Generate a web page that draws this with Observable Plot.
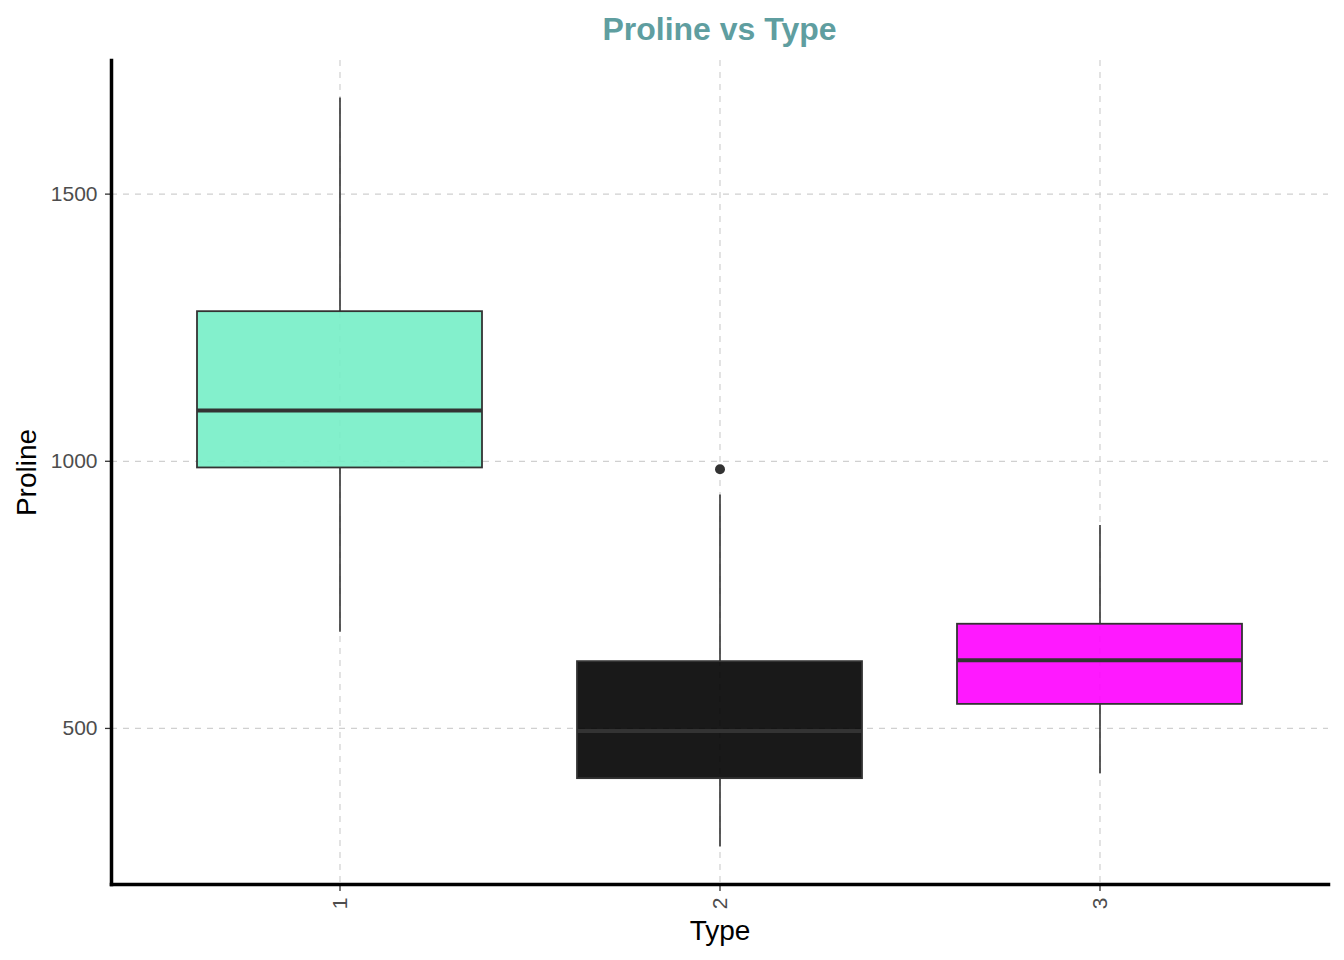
<!DOCTYPE html>
<html>
<head>
<meta charset="utf-8">
<script src="https://cdn.jsdelivr.net/npm/d3@7"></script>
<script src="https://cdn.jsdelivr.net/npm/@observablehq/plot@0.6"></script>
<style>
  body { margin: 0; background: #fff; font-family: "Liberation Sans", Arial, sans-serif; }
  #title { height: 50px; margin-left: 111px; width: 1217px; text-align: center;
           font-size: 32px; font-weight: bold; color: #5F9EA0; line-height: 58px; }
</style>
</head>
<body>
<div id="title">Proline vs Type</div>
<div id="chart"></div>
<script>
const types = ["1", "2", "3"];
const lowerWhisker = [680, 278, 415];
const q1 = [987.5, 406, 545];
const median = [1095, 495, 627.5];
const q3 = [1280, 625, 695];
const upperWhisker = [1680, 937, 880];
const outlierTypes = ["2"];
const outlierValues = [985];
const boxColors = ["#76EEC6", "#000000", "#FF00FF"];
const yTicks = [500, 1000, 1500];

const boxes = types.map((t, i) => ({
  type: t, lo: lowerWhisker[i], q1: q1[i], med: median[i], q3: q3[i], hi: upperWhisker[i], color: boxColors[i]
}));
const outliers = outlierTypes.map((t, i) => ({type: t, value: outlierValues[i]}));

const allVals = [...lowerWhisker, ...upperWhisker, ...outlierValues];
const vmin = d3.min(allVals), vmax = d3.max(allVals);
const pad = (vmax - vmin) * 0.05;
const yDomain = [vmin - pad, vmax + pad];

const plot = Plot.plot({
  width: 1344,
  height: 910,
  marginTop: 10,
  marginBottom: 76,
  marginLeft: 111,
  marginRight: 16,
  style: {fontFamily: "Liberation Sans, Arial, sans-serif", background: "#fff"},
  x: {type: "band", domain: types, paddingInner: 0.25, paddingOuter: 0.225, label: null},
  y: {domain: yDomain, label: null},
  marks: [
    Plot.gridY(yTicks, {stroke: "#d0d0d0", strokeOpacity: 1, strokeWidth: 1.2, strokeDasharray: "6,6"}),
    Plot.gridX(types, {stroke: "#d0d0d0", strokeOpacity: 1, strokeWidth: 1.2, strokeDasharray: "6,6"}),
    Plot.ruleX(boxes, {x: "type", y1: "lo", y2: "q1", stroke: "#333", strokeWidth: 1.6}),
    Plot.ruleX(boxes, {x: "type", y1: "q3", y2: "hi", stroke: "#333", strokeWidth: 1.6}),
    Plot.barY(boxes, {x: "type", y1: "q1", y2: "q3", fill: d => d.color, fillOpacity: 0.9, stroke: "#333", strokeWidth: 1.8}),
    Plot.tickY(boxes, {x: "type", y: "med", stroke: "#333", strokeWidth: 4}),
    Plot.dot(outliers, {x: "type", y: "value", r: 5, fill: "#333", stroke: null}),
    Plot.axisY(yTicks, {tickSize: 6, tickPadding: 8, fontSize: 21, color: "#4D4D4D", stroke: "#333", strokeWidth: 1.3, tickFormat: d3.format("d"), label: null}),
    Plot.axisX(types, {tickSize: 7, tickPadding: 6, fontSize: 21, color: "#4D4D4D", stroke: "#333", strokeWidth: 1.3, tickRotate: -90, label: null}),
    Plot.frame({anchor: "left", stroke: "#000", strokeWidth: 3.5}),
    Plot.frame({anchor: "bottom", stroke: "#000", strokeWidth: 3.5}),
    Plot.text(["Proline"], {frameAnchor: "left", textAnchor: "middle", dx: -84, rotate: -90, fontSize: 28, fill: "#000"}),
    Plot.text(["Type"], {frameAnchor: "bottom", textAnchor: "middle", dy: 55, fontSize: 28, fill: "#000"})
  ]
});
document.getElementById("chart").appendChild(plot);
</script>
</body>
</html>
